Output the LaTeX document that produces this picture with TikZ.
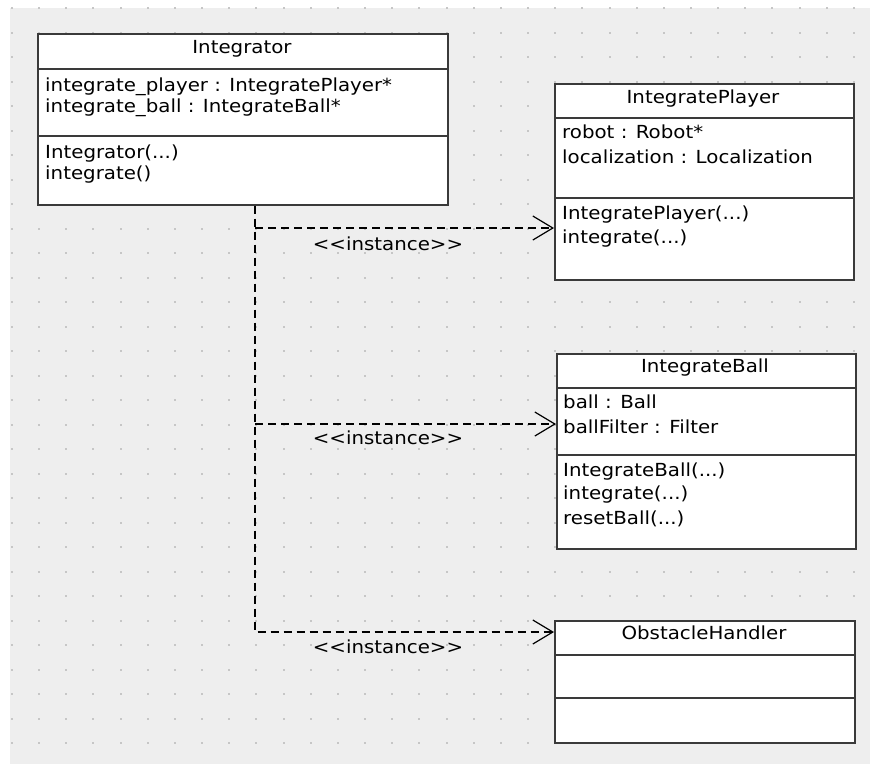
\documentclass[tikz,border=0pt]{standalone}
\usepackage{fontspec}
\usetikzlibrary{arrows.meta}

\newfontfamily\umlfont{DejaVu Sans}[FakeStretch=1.1]
\definecolor{sheetbg}{HTML}{EEEEEE}
\definecolor{gridpt}{HTML}{C6C6C6}
\definecolor{boxline}{HTML}{3A3A3A}

\tikzset{
    classbox/.style={draw=boxline, line width=1.6pt, fill=white, anchor=north west, inner sep=0pt},
    divider/.style={draw=boxline, line width=1.4pt},
    title/.style={anchor=base, inner sep=0pt, font=\umlfont\fontsize{18}{20}\selectfont},
    member/.style={anchor=base west, inner sep=0pt, font=\umlfont\fontsize{18}{20}\selectfont},
    stereo/.style={anchor=base, inner sep=0pt, font=\umlfont\fontsize{18}{20}\selectfont},
    dep/.style={draw=black, line width=1.2pt, dash pattern=on 8pt off 5pt},
    instof/.style={dep, -{Straight Barb[length=20pt, width=24pt, line width=1.2pt]}},
}

\begin{document}
\begin{tikzpicture}[x=1pt, y=-1pt]
        \useasboundingbox (0,0) rectangle (870,764);
        \fill[white] (0,0) rectangle (870,764);
        \fill[sheetbg] (10,8) rectangle (870,764);

        % dotted sheet
        \foreach \i in {0,...,31}
            \foreach \j in {0,...,30}
                \fill[gridpt] (11+27.16*\i, 7+24.5*\j) rectangle ++(2,2);

        % Integrator
        \node[classbox, minimum width=410pt, minimum height=171pt] (integrator) at (37,33) {};
        \draw[divider] (37,69) -- (447,69);
        \draw[divider] (37,136) -- (447,136);
        \node[title] (integratorname) at (242,53) {Integrator};
        \node[member] (intattrA) at (45,91) {integrate\_player : IntegratePlayer*};
        \node[member] (intattrB) at (45,112) {integrate\_ball : IntegrateBall*};
        \node[member] (intopA) at (45,158) {Integrator(...)};
        \node[member] (intopB) at (45,179) {integrate()};

        % IntegratePlayer
        \node[classbox, minimum width=299pt, minimum height=196pt] (player) at (554,83) {};
        \draw[divider] (554,118) -- (853,118);
        \draw[divider] (554,198) -- (853,198);
        \node[title] (playername) at (703,103) {IntegratePlayer};
        \node[member] (plattrA) at (562,138) {robot : Robot*};
        \node[member] (plattrB) at (562,163) {localization : Localization};
        \node[member] (plopA) at (562,219) {IntegratePlayer(...)};
        \node[member] (plopB) at (562,243) {integrate(...)};

        % IntegrateBall
        \node[classbox, minimum width=299pt, minimum height=195pt] (ball) at (556,353) {};
        \draw[divider] (556,388) -- (855,388);
        \draw[divider] (556,455) -- (855,455);
        \node[title] (ballname) at (705,372) {IntegrateBall};
        \node[member] (blattrA) at (563,408) {ball : Ball};
        \node[member] (blattrB) at (563,433) {ballFilter : Filter};
        \node[member] (blopA) at (563,476) {IntegrateBall(...)};
        \node[member] (blopB) at (563,499) {integrate(...)};
        \node[member] (blopC) at (563,524) {resetBall(...)};

        % ObstacleHandler
        \node[classbox, minimum width=300pt, minimum height=122pt] (handler) at (554,620) {};
        \draw[divider] (554,655) -- (854,655);
        \draw[divider] (554,698) -- (854,698);
        \node[title] (handlername) at (704,639) {ObstacleHandler};

        % dependencies
        \coordinate (forkA) at (255,228);
        \coordinate (forkB) at (255,424);
        \coordinate (forkC) at (255,632);
        \draw[instof] (integrator.south -| forkA) -- (forkC) -- (handler.west |- forkC);
        \draw[instof] (forkA) -- (player.west |- forkA);
        \draw[instof] (forkB) -- (ball.west |- forkB);
        \node[stereo] (instA) at (388,250) {<<instance>>};
        \node[stereo] (instB) at (388,444) {<<instance>>};
        \node[stereo] (instC) at (388,653) {<<instance>>};
\end{tikzpicture}
\end{document}
